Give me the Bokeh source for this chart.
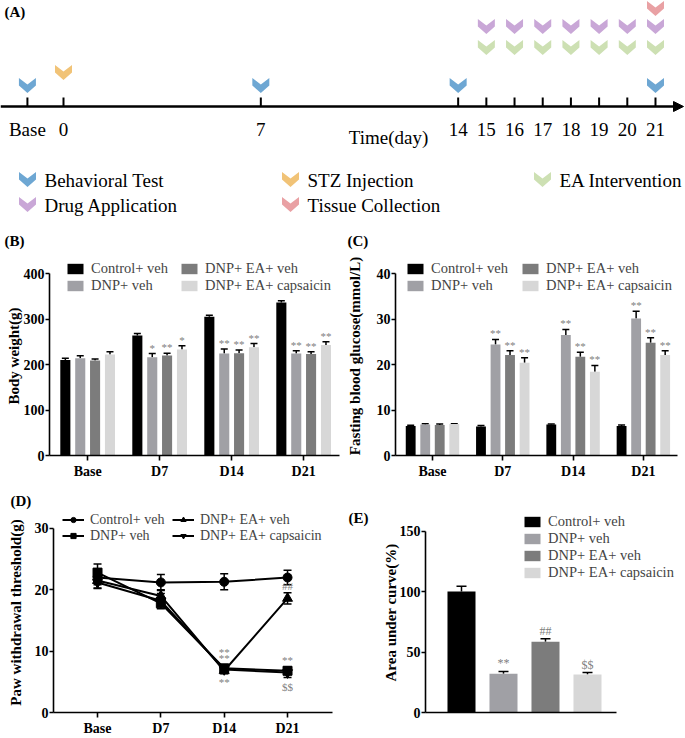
from bokeh.plotting import figure
from bokeh.models import (Range1d, Arrow, NormalHead, Whisker, TeeHead, ColumnDataSource,
                          Legend, LegendItem, Title, FixedTicker)
from bokeh.layouts import column, row
from bokeh.embed import file_html
from bokeh.resources import INLINE
from bokeh.core.properties import value

SERIF = "Liberation Serif"

# ---------------- data ----------------
timeline_labels = ["Base", "0", "7", "14", "15", "16", "17", "18", "19", "20", "21"]
timeline_days = [-1.28, 0, 7, 14, 15, 16, 17, 18, 19, 20, 21]
behavioral_days = [-1.28, 7, 14, 21]
stz_days = [0]
ea_days = [15, 16, 17, 18, 19, 20, 21]
drug_days = [15, 16, 17, 18, 19, 20, 21]
tissue_days = [21]
event_names = ["Behavioral Test", "STZ Injection", "EA Intervention",
               "Drug Application", "Tissue Collection"]
event_colors = ["#6ea7d3", "#f1c377", "#cde0b3", "#c9a7d7", "#e9a1a4"]

groups = ["Base", "D7", "D14", "D21"]
series = ["Control+ veh", "DNP+ veh", "DNP+ EA+ veh", "DNP+ EA+ capsaicin"]
series_colors = ["#000000", "#a0a0a5", "#7c7c7c", "#d7d7d7"]

# (B) body weight (g)
bw_control = [210, 264, 305, 336]
bw_dnp = [214, 216, 224, 224]
bw_ea = [209, 220, 225, 223]
bw_caps = [222, 233, 238, 243]
bw_control_err = [4, 4, 3, 4]
bw_dnp_err = [5, 8, 10, 6]
bw_ea_err = [3, 5, 7, 5]
bw_caps_err = [6, 8, 8, 7]
bw_control_sig = ["", "", "", ""]
bw_dnp_sig = ["", "*", "**", "**"]
bw_ea_sig = ["", "**", "**", "**"]
bw_caps_sig = ["", "*", "**", "**"]

# (C) fasting blood glucose (mmol/L)
fbg_control = [6.5, 6.4, 6.8, 6.5]
fbg_dnp = [6.8, 24.4, 26.5, 30.1]
fbg_ea = [6.7, 22.1, 21.7, 24.8]
fbg_caps = [6.9, 20.4, 18.4, 22.1]
fbg_control_err = [0.15, 0.2, 0.15, 0.2]
fbg_dnp_err = [0.2, 1.1, 1.2, 1.6]
fbg_ea_err = [0.2, 0.9, 1.0, 1.1]
fbg_caps_err = [0.1, 1.1, 1.4, 0.9]
fbg_control_sig = ["", "", "", ""]
fbg_dnp_sig = ["", "**", "**", "**"]
fbg_ea_sig = ["", "**", "**", "**"]
fbg_caps_sig = ["", "**", "**", "**"]

# (D) paw withdrawal threshold (g)
pwt_control = [22.0, 21.2, 21.3, 22.0]
pwt_dnp = [22.8, 17.8, 7.2, 6.8]
pwt_ea = [21.5, 19.0, 6.8, 18.6]
pwt_caps = [21.2, 18.2, 7.0, 6.5]
pwt_control_err = [1.2, 1.3, 1.3, 1.2]
pwt_dnp_err = [1.4, 0.9, 0.5, 0.6]
pwt_ea_err = [1.2, 1.0, 0.5, 0.9]
pwt_caps_err = [1.0, 1.2, 0.5, 0.8]
pwt_dnp_sig = ["", "", "**", "**"]
pwt_ea_sig = ["", "", "**", "##"]
pwt_caps_sig = ["", "", "**", "$$"]

# (E) area under curve (%)
auc = [100, 32, 58.5, 31.5]
auc_err = [4.5, 2.0, 2.5, 1.5]
auc_sig = ["", "**", "##", "$$"]


# ---------------- helpers ----------------
def base_fig(w, h, xr, yr, left, right, top, bottom, axes=True):
    kw = {}
    if not axes:
        kw = dict(x_axis_type=None, y_axis_type=None)
    p = figure(width=w, height=h, x_range=xr, y_range=yr, output_backend="svg",
               toolbar_location=None, min_border_left=left, min_border_right=right,
               min_border_top=top, min_border_bottom=bottom, **kw)
    p.outline_line_color = None
    p.background_fill_color = "white"
    p.border_fill_color = "white"
    if axes:
        p.grid.visible = False
    return p


def y_end_for(vmax, frame_top, vmax_px, frame_bottom):
    # range end such that vmax lands at vmax_px while the frame spans frame_top..frame_bottom
    return vmax * (frame_bottom - frame_top) / (frame_bottom - vmax_px)


def style_axes(p, yticks, xbounds, ylabel, label_standoff, xlabels=True):
    for ax in (p.xaxis[0], p.yaxis[0]):
        ax.axis_line_width = 1.6
        ax.axis_line_color = "black"
        ax.major_tick_line_width = 1.6
        ax.major_tick_line_color = "black"
        ax.major_tick_out = 5
        ax.major_tick_in = 0
        ax.minor_tick_line_color = None
        ax.major_label_text_font = SERIF
        ax.major_label_text_font_style = "bold"
        ax.major_label_text_font_size = "14px"
        ax.major_label_text_color = "black"
        ax.major_label_standoff = 2
    p.yaxis.major_tick_out = 4
    p.yaxis.major_label_standoff = 1
    p.yaxis.ticker = FixedTicker(ticks=yticks)
    p.yaxis.bounds = (yticks[0], yticks[-1])
    p.yaxis.axis_label = ylabel
    p.yaxis.axis_label_text_font = SERIF
    p.yaxis.axis_label_text_font_style = "bold"
    p.yaxis.axis_label_text_font_size = "15px"
    p.yaxis.axis_label_text_color = "black"
    p.yaxis.axis_label_standoff = label_standoff
    p.xaxis.bounds = xbounds
    if xlabels:
        p.xaxis.ticker = FixedTicker(ticks=list(range(len(groups))))
        p.xaxis.major_label_overrides = {i: g for i, g in enumerate(groups)}
        p.xaxis.major_label_standoff = 3
    else:
        p.xaxis.ticker = FixedTicker(ticks=[])


def panel_label(p, text, offset, standoff):
    p.add_layout(Title(text=text, align="left", offset=offset, standoff=standoff,
                       text_font=SERIF, text_font_style="bold", text_font_size="15px",
                       text_color="black"), "above")


def make_legend(items, x, top_px, frame_bottom, nrows, font_px, glyph_w, glyph_h, label_w,
                label_h, spacing, standoff=6):
    height = nrows * label_h + (nrows - 1) * spacing
    return Legend(items=items, location=(x, frame_bottom - (top_px + height)),
                  orientation="vertical", nrows=nrows, label_text_font=SERIF,
                  label_text_font_size=f"{font_px}px", label_standoff=standoff,
                  glyph_width=glyph_w, glyph_height=glyph_h, label_width=label_w,
                  label_height=label_h, spacing=spacing, padding=0, margin=0,
                  border_line_color=None, background_fill_alpha=0)


# ---------------- panel A : timeline ----------------
A_W, A_H = 685, 222
PX_PER_DAY = 28.19
DAY0_X = 63


def day_at(px):
    return (px - DAY0_X) / PX_PER_DAY


pA = base_fig(A_W, A_H, Range1d(day_at(0), day_at(A_W)), Range1d(A_H, 0), 0, 0, 0, 0, axes=False)

CHEV_HW = 8.5 / PX_PER_DAY
CHEV_SHAPE = [(-1, -7.5), (0, -1), (1, -7.5), (1, 0), (0, 7.5), (-1, 0)]


def chevrons(p, xs, y, color):
    xs_list = [[x + sx * CHEV_HW for sx, sy in CHEV_SHAPE] for x in xs]
    ys_list = [[y + sy for sx, sy in CHEV_SHAPE] for x in xs]
    p.patches(xs_list, ys_list, fill_color=color, line_color=None)


AXIS_Y = 106
pA.add_layout(Arrow(end=NormalHead(size=10, fill_color="black", line_color="black", line_width=1),
                    x_start=day_at(0), y_start=AXIS_Y, x_end=day_at(683), y_end=AXIS_Y,
                    line_width=2.5, line_color="black"))
n = len(timeline_days)
pA.segment(x0=timeline_days, y0=[AXIS_Y - 9] * n, x1=timeline_days, y1=[AXIS_Y] * n,
           line_width=2, line_color="black")
pA.text(x=timeline_days, y=[129] * n, text=timeline_labels, text_align="center",
        text_baseline="middle", text_font=value(SERIF), text_font_size="19px", text_color="black")
pA.text(x=[day_at(388)], y=[137], text=["Time(day)"], text_align="center",
        text_baseline="middle", text_font=value(SERIF), text_font_size="19px", text_color="black")
pA.text(x=[day_at(4)], y=[11], text=["(A)"], text_align="left", text_baseline="middle",
        text_font=value(SERIF), text_font_style="bold", text_font_size="15px", text_color="black")

chevrons(pA, behavioral_days, 85, event_colors[0])
chevrons(pA, stz_days, 72, event_colors[1])
chevrons(pA, ea_days, 47, event_colors[2])
chevrons(pA, drug_days, 26, event_colors[3])
chevrons(pA, tissue_days, 8, event_colors[4])

legend_pos = [(27, 179), (290, 179), (542, 179), (27, 204), (290, 204)]
for name, col, (lx, ly) in zip(event_names, event_colors, legend_pos):
    chevrons(pA, [day_at(lx)], ly, col)
    pA.text(x=[day_at(lx + 17)], y=[ly + 1], text=[name], text_align="left", text_baseline="middle",
            text_font=value(SERIF), text_font_size="19px", text_color="black")

# ---------------- bar panels B, C ----------------
OFFS = [-0.31, -0.103, 0.103, 0.31]
BAR_W = 0.14
H2 = 260          # height of the B/C row
FB2 = 233         # frame bottom inside that row


def bar_panel(p, data, errs, sigs):
    items = []
    for k in range(len(series)):
        xs = [i + OFFS[k] for i in range(len(groups))]
        src = ColumnDataSource(dict(x=xs, top=data[k],
                                    upper=[v + e for v, e in zip(data[k], errs[k])],
                                    sig=sigs[k]))
        r = p.vbar(x="x", top="top", bottom=0, width=BAR_W, source=src,
                   fill_color=series_colors[k], line_color=None)
        p.add_layout(Whisker(base="x", lower="top", upper="upper", source=src,
                             line_width=1.5, line_color="black",
                             upper_head=TeeHead(size=7, line_width=1.5, line_color="black"),
                             lower_head=None))
        p.text(x="x", y="upper", text="sig", source=src, text_align="center",
               text_baseline="bottom", y_offset=0, text_font=value(SERIF),
               text_font_size="11px", text_color="#808080")
        items.append(LegendItem(label=series[k], renderers=[r]))
    return items


# B
B_W, B_L, B_R, B_T = 342, 49, 0, 34
B_PXU = 72.0
B_X0 = -0.53
pB = base_fig(B_W, H2, Range1d(B_X0, B_X0 + (B_W - B_L - B_R) / B_PXU),
              Range1d(0, y_end_for(400, B_T, 51, FB2)), B_L, B_R, B_T, H2 - FB2)
style_axes(pB, [0, 100, 200, 300, 400], (B_X0, 3.5), "Body weight(g)", -1)
itemsB = bar_panel(pB, [bw_control, bw_dnp, bw_ea, bw_caps],
                   [bw_control_err, bw_dnp_err, bw_ea_err, bw_caps_err],
                   [bw_control_sig, bw_dnp_sig, bw_ea_sig, bw_caps_sig])
pB.add_layout(make_legend(itemsB, 16, 37.5, FB2, 2, 14.5, 20, 13, 88, 17, 0))
panel_label(pB, "(B)", 4 - B_L, 15)

# C
C_W, C_L, C_R, C_T = 343, 53, 0, 34
C_PXU = 70.3
C_X0 = -0.526
pC = base_fig(C_W, H2, Range1d(C_X0, C_X0 + (C_W - C_L - C_R) / C_PXU),
              Range1d(0, y_end_for(40, C_T, 51, FB2)), C_L, C_R, C_T, H2 - FB2)
style_axes(pC, [0, 10, 20, 30, 40], (C_X0, 3.485), "Fasting blood glucose(mmol/L)", 11)
itemsC = bar_panel(pC, [fbg_control, fbg_dnp, fbg_ea, fbg_caps],
                   [fbg_control_err, fbg_dnp_err, fbg_ea_err, fbg_caps_err],
                   [fbg_control_sig, fbg_dnp_sig, fbg_ea_sig, fbg_caps_sig])
pC.add_layout(make_legend(itemsC, 10, 37.5, FB2, 2, 14.5, 20, 13, 89, 17, 0))
panel_label(pC, "(C)", 5 - C_L, 15)

# ---------------- panel D : lines ----------------
H3 = 256          # height of the D/E row
FBD = 231
D_W, D_L, D_R, D_T = 342, 53, 10, 30
pD = base_fig(D_W, H3, Range1d(-0.695, 3.71), Range1d(0, y_end_for(30, D_T, 46, FBD)),
              D_L, D_R, D_T, H3 - FBD)
style_axes(pD, [0, 10, 20, 30], (-0.695, 3.71), "Paw withdrawal threshold(g)", 8)
markers = ["circle", "square", "triangle", "inverted_triangle"]
msizes = [9, 9, 10, 10]
d_vals = [pwt_control, pwt_dnp, pwt_ea, pwt_caps]
d_errs = [pwt_control_err, pwt_dnp_err, pwt_ea_err, pwt_caps_err]
itemsD = []
xs_idx = list(range(len(groups)))
for k in range(len(series)):
    src = ColumnDataSource(dict(x=xs_idx, y=d_vals[k],
                                lo=[v - e for v, e in zip(d_vals[k], d_errs[k])],
                                hi=[v + e for v, e in zip(d_vals[k], d_errs[k])]))
    pD.add_layout(Whisker(base="x", lower="lo", upper="hi", source=src, line_width=1.5,
                          line_color="black",
                          upper_head=TeeHead(size=8, line_width=1.5, line_color="black"),
                          lower_head=TeeHead(size=8, line_width=1.5, line_color="black")))
    lr = pD.line(x="x", y="y", source=src, line_width=2, line_color="black")
    sr = pD.scatter(x="x", y="y", source=src, marker=markers[k], size=msizes[k],
                    fill_color="black", line_color="black")
    itemsD.append(LegendItem(label=series[k], renderers=[lr, sr]))

sig_specs = [(pwt_dnp, pwt_dnp_err, pwt_dnp_sig, "above", 0),
             (pwt_ea, pwt_ea_err, pwt_ea_sig, "above", 1),
             (pwt_caps, pwt_caps_err, pwt_caps_sig, "below", 0)]
for vals, errs, sigs, side, stack in sig_specs:
    xs_s, ys_s, ts = [], [], []
    for i, (v, e, s) in enumerate(zip(vals, errs, sigs)):
        if not s:
            continue
        xs_s.append(i)
        ys_s.append(v + e if side == "above" else v - e)
        ts.append(s)
    if side == "above" and stack == 1:
        offs = [-1 - (9 if t == "**" else 0) for t in ts]
    elif side == "above":
        offs = [-1] * len(ts)
    else:
        offs = [3] * len(ts)
    src = ColumnDataSource(dict(x=xs_s, y=ys_s, t=ts, off=offs))
    pD.text(x="x", y="y", text="t", source=src, y_offset="off", text_align="center",
            text_baseline="bottom" if side == "above" else "top",
            text_font=value(SERIF), text_font_size="11px", text_color="#808080")

pD.add_layout(make_legend(itemsD, 9, 32.5, FBD, 2, 14, 22, 13, 82, 15, 0))
panel_label(pD, "(D)", 10 - D_L, 7)

# ---------------- panel E : AUC bars ----------------
FBE = 233
E_W, E_L, E_R, E_T = 343, 83, 2, 29
E_PXU = 42.0
E_X0 = -0.857
pE = base_fig(E_W, H3, Range1d(E_X0, E_X0 + (E_W - E_L - E_R) / E_PXU),
              Range1d(0, y_end_for(150, E_T, 48, FBE)), E_L, E_R, E_T, H3 - FBE)
style_axes(pE, [0, 50, 100, 150], (E_X0, 3.69), "Area under curve(%)", -2, xlabels=False)
srcE = ColumnDataSource(dict(x=list(range(len(series))), top=auc,
                             upper=[v + e for v, e in zip(auc, auc_err)],
                             color=series_colors, sig=auc_sig))
rE = pE.vbar(x="x", top="top", bottom=0, width=0.667, source=srcE, fill_color="color",
             line_color=None)
pE.add_layout(Whisker(base="x", lower="top", upper="upper", source=srcE, line_width=1.5,
                      line_color="black",
                      upper_head=TeeHead(size=10, line_width=1.5, line_color="black"),
                      lower_head=None))
pE.text(x="x", y="upper", text="sig", source=srcE, text_align="center", text_baseline="bottom",
        y_offset=-1, text_font=value(SERIF), text_font_size="12px", text_color="#808080")
itemsE = [LegendItem(label=s, renderers=[rE], index=i) for i, s in enumerate(series)]
pE.add_layout(make_legend(itemsE, 97, 33.5, FBE, 4, 14.5, 20, 13, 20, 17, 0))
panel_label(pE, "(E)", 6 - E_L, -27)

layout = column(pA, row(pB, pC), row(pD, pE))
open("out.html", "w").write(file_html(layout, INLINE))
